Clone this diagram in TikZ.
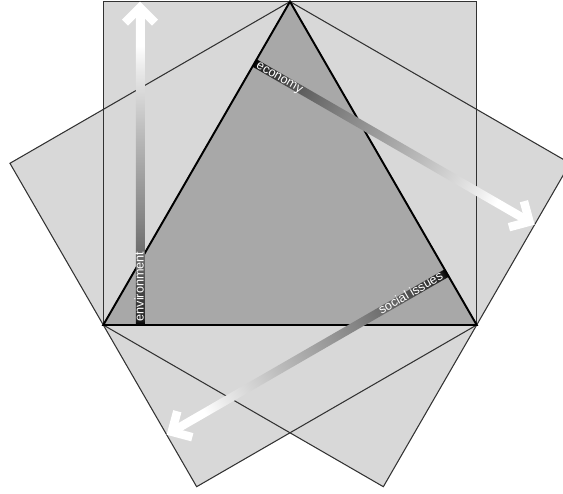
\documentclass[tikz,border=0pt]{standalone}
\usepackage{fontspec}
\usepackage{tikz}
\usetikzlibrary{calc}
\newfontfamily\labelfont{Liberation Sans}
\definecolor{sheetGray} {RGB}{216,216,216}
\definecolor{coreGray}  {RGB}{168,168,168}
\definecolor{edgeGray}  {RGB}{50, 50, 50}

% fade along a bar: black at the foot, white near the head
% (the path covers 25bp..75bp of the shading)
\pgfdeclarehorizontalshading{barfade}{100bp}{%
  color(0bp)=(black); color(25bp)=(black); color(26bp)=(black!85);
  color(34bp)=(black!62); color(41.5bp)=(black!48); color(55bp)=(black!27);
  color(65bp)=(black!9); color(69bp)=(white); color(100bp)=(white)}

\begin{document}
\begin{tikzpicture}[
    sheet fill/.style={fill=sheetGray},
    sheet line/.style={draw=edgeGray,line width=0.6pt,line join=miter},
    bar shade/.style={shading=barfade},
    bar head/.style={white,line width=0.17cm,line cap=butt,line join=miter},
    bar label/.style={white,inner sep=0pt,
                      font=\fontsize{7.2}{8}\selectfont\labelfont}]

    \useasboundingbox (0,0) rectangle (11.26,9.88);

    % ─── Triangle corners and arrow feet ───────────────────
    \coordinate (A) at (2.066,3.38);
    \coordinate (B) at (9.534,3.38);
    \coordinate (C) at (5.8,9.848);
    \coordinate (envFoot) at (2.80,3.38);
    \coordinate (ecoFoot) at (5.091,8.62);
    \coordinate (socFoot) at (8.934,4.419);

    % ─── Three sheets (fill first, then the edges) ─────────
    \fill[sheet fill] (A) -- (B) -- (9.534,9.848) -- (2.066,9.848) -- cycle;
    \fill[sheet fill] (A) -- (C) -- (11.401,6.614) -- (7.667,0.146) -- cycle;
    \fill[sheet fill] (B) -- (C) -- (0.199,6.614) -- (3.933,0.146) -- cycle;
    \draw[sheet line] (A) -- (B) -- (9.534,9.848) -- (2.066,9.848) -- cycle;
    \draw[sheet line] (A) -- (C) -- (11.401,6.614) -- (7.667,0.146) -- cycle;
    \draw[sheet line] (B) -- (C) -- (0.199,6.614) -- (3.933,0.146) -- cycle;

    % ─── Triangle ──────────────────────────────────────────
    \draw[fill=coreGray,draw=black,line width=1.1pt,line join=miter]
      (A) -- (B) -- (C) -- cycle;

    % ─── Arrow: environment (up from the base) ─────────────
    \begin{scope}[transform canvas={shift={(envFoot)},rotate=90}]
      \shade[bar shade] (0,-0.085) rectangle (6.35,0.085);
      \draw[bar head] (6.048,0.3) -- (6.348,0) -- (6.048,-0.3);
    \end{scope}
    \node[bar label,rotate=90,anchor=base west] (envLabel)
      at ($(envFoot)+(0.07,0.066)$) {environment};

    % ─── Arrow: economy (out of the left side) ─────────────
    \begin{scope}[transform canvas={shift={(ecoFoot)},rotate=-30}]
      \shade[bar shade] (0,-0.085) rectangle (6.35,0.085);
      \draw[bar head] (6.048,0.3) -- (6.348,0) -- (6.048,-0.3);
    \end{scope}
    \node[bar label,rotate=-30,anchor=base west] (ecoLabel)
      at ($(ecoFoot)+(0.017,-0.091)$) {economy};

    % ─── Arrow: social issues (out of the right side) ──────
    \begin{scope}[transform canvas={shift={(socFoot)},rotate=210}]
      \shade[bar shade] (0,-0.085) rectangle (6.35,0.085);
      \draw[bar head] (6.048,0.3) -- (6.348,0) -- (6.048,-0.3);
    \end{scope}
    \node[bar label,rotate=30,anchor=base east] (socLabel)
      at ($(socFoot)+(-0.052,-0.111)$) {social issues};

\end{tikzpicture}
\end{document}
